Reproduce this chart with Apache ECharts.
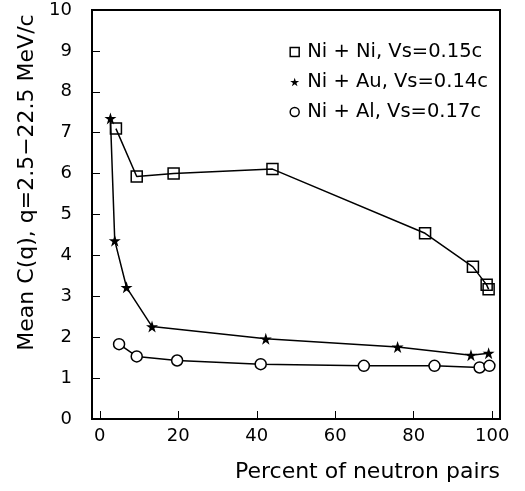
<!DOCTYPE html>
<html>
<head>
<meta charset="utf-8">
<script src="https://cdn.jsdelivr.net/npm/echarts@6/dist/echarts.min.js"></script>
<style>
  html, body { margin: 0; padding: 0; background: #fff; }
  #chart { width: 525px; height: 491px; }
</style>
</head>
<body>
<div id="chart"></div>
<script>
// data
var niNiX = [4.1, 9.4, 18.8, 44.0, 82.9, 95.1, 98.6, 99.1];
var niNiY = [7.1, 5.93, 6.0, 6.11, 4.54, 3.72, 3.28, 3.17];
var niAuX = [2.7, 3.8, 6.8, 13.3, 42.3, 75.9, 94.6, 99.1];
var niAuY = [7.35, 4.36, 3.22, 2.26, 1.96, 1.76, 1.56, 1.61];
var niAlX = [4.9, 9.4, 19.7, 41.0, 67.3, 85.3, 96.8, 99.3];
var niAlY = [1.83, 1.53, 1.43, 1.34, 1.30, 1.30, 1.26, 1.30];
var xTicks = [0, 20, 40, 60, 80, 100];
var names = ['Ni + Ni, Vs=0.15c', 'Ni + Au, Vs=0.14c', 'Ni + Al, Vs=0.17c'];

var star = 'path://M50 0 L61.23 34.55 L97.55 34.55 L68.16 55.9 L79.39 90.45 L50 69.1 L20.61 90.45 L31.84 55.9 L2.45 34.55 L38.77 34.55 Z';
var font = 'DejaVu Sans';

function pairs(xs, ys) {
  return xs.map(function (x, i) { return [x, ys[i]]; });
}

var chart = echarts.init(document.getElementById('chart'));
chart.setOption({
  animation: false,
  backgroundColor: '#fff',
  grid: {
    left: 92, right: 25, top: 10, bottom: 72,
    show: true, borderColor: '#000', borderWidth: 2
  },
  legend: {
    orient: 'vertical',
    right: 37, top: 42,
    padding: 0,
    itemGap: 10,
    itemWidth: 9, itemHeight: 9,
    textStyle: { fontFamily: font, fontSize: 19.5, color: '#000', padding: [0, 0, 0, 3] },
    data: [
      { name: names[0], icon: 'rect', itemStyle: { color: 'transparent', borderColor: '#000', borderWidth: 1.5 } },
      { name: names[1], icon: star, itemStyle: { color: '#000', borderWidth: 0 } },
      { name: names[2], icon: 'circle', itemStyle: { color: 'transparent', borderColor: '#000', borderWidth: 1.5 } }
    ]
  },
  xAxis: {
    type: 'value',
    min: -2, max: 102,
    name: 'Percent of neutron pairs',
    nameLocation: 'end',
    nameGap: 0,
    nameTextStyle: {
      fontFamily: font, fontSize: 22, color: '#000',
      align: 'right', verticalAlign: 'top', padding: [42, 0, 0, 0]
    },
    axisLine: { show: false, onZero: false },
    splitLine: { show: false },
    axisTick: { show: true, inside: true, length: 8, customValues: xTicks, lineStyle: { color: '#000', width: 1 } },
    axisLabel: { customValues: xTicks, margin: 8, fontFamily: font, fontSize: 18, color: '#000' }
  },
  yAxis: {
    type: 'value',
    min: 0, max: 10, interval: 1,
    name: 'Mean C(q), q=2.5\u221222.5 MeV/c',
    nameLocation: 'middle',
    nameGap: 50,
    nameTextStyle: { fontFamily: font, fontSize: 22, color: '#000', padding: [0, 0, 0, 64] },
    axisLine: { show: false, onZero: false },
    splitLine: { show: false },
    axisTick: { show: true, inside: true, length: 8, lineStyle: { color: '#000', width: 1 } },
    axisLabel: { margin: 20, fontFamily: font, fontSize: 18, color: '#000' }
  },
  series: [
    {
      name: names[0], type: 'line', data: pairs(niNiX, niNiY),
      symbol: 'rect', symbolSize: 11,
      lineStyle: { color: '#000', width: 1.5 },
      itemStyle: { color: 'transparent', borderColor: '#000', borderWidth: 1.5 }
    },
    {
      name: names[1], type: 'line', data: pairs(niAuX, niAuY),
      symbol: star, symbolSize: 12,
      lineStyle: { color: '#000', width: 1.5 },
      itemStyle: { color: '#000', borderWidth: 0 }
    },
    {
      name: names[2], type: 'line', data: pairs(niAlX, niAlY),
      symbol: 'circle', symbolSize: 11,
      lineStyle: { color: '#000', width: 1.5 },
      itemStyle: { color: '#fff', borderColor: '#000', borderWidth: 1.5 }
    }
  ]
});
</script>
</body>
</html>
